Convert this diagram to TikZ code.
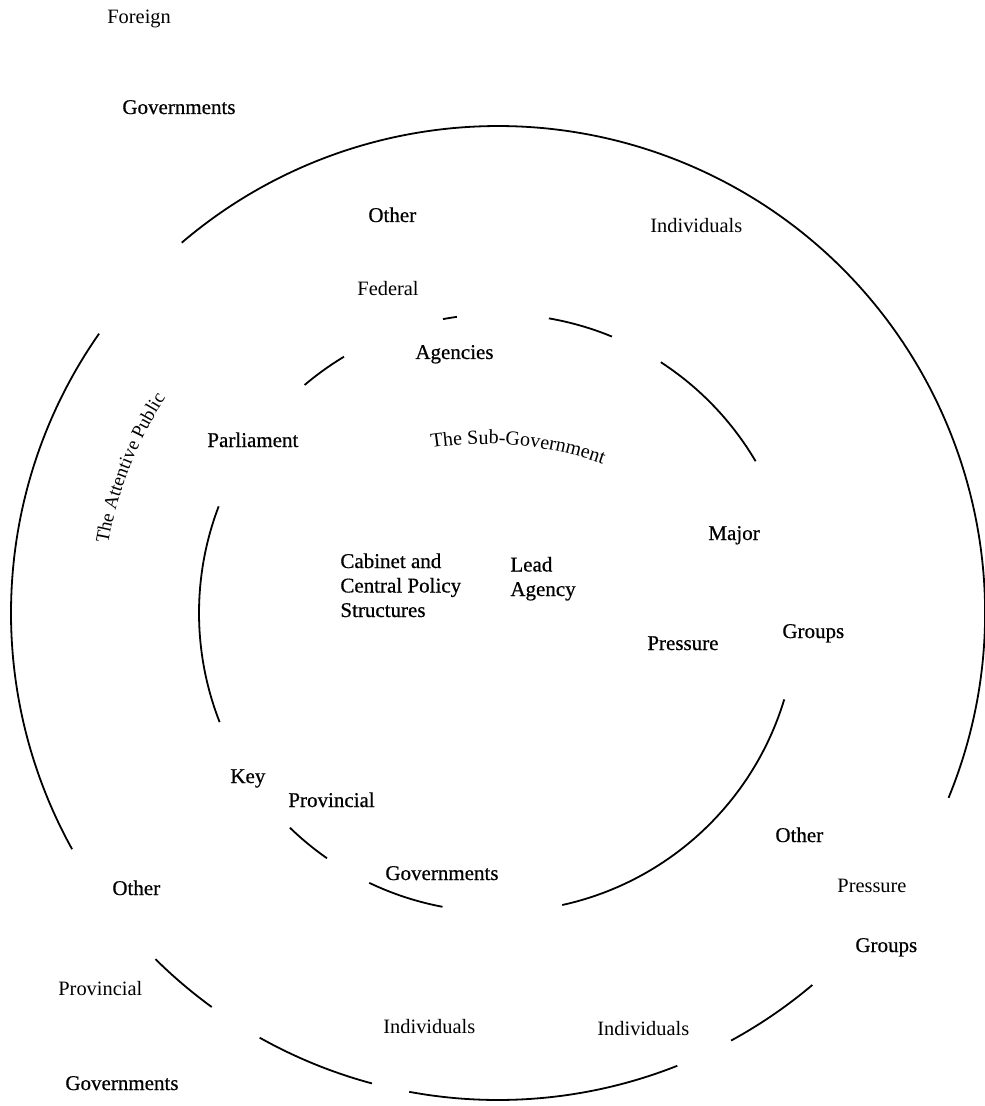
\documentclass[tikz,border=0pt]{standalone}
\usepackage{fontspec}
\setmainfont{Liberation Serif}
\newfontfamily\darkfont{Liberation Serif}[FakeBold=0.6]
\usetikzlibrary{decorations.text}

\begin{document}
\begin{tikzpicture}[
                x=0.5pt,
                y=-0.5pt,
                word/.style={
                    font=\darkfont\fontsize{10.5}{12.25}\selectfont,
                    anchor=base west,
                    inner sep=0pt,
                    align=left
                },
                faint/.style={
                    font=\fontsize{10.2}{12}\selectfont,
                    anchor=base west,
                    inner sep=0pt
                },
                ring/.style={
                    draw,
                    line width=0.9pt
                }]

                \useasboundingbox (0,0) rectangle (984,1106);
                \coordinate (centre) at (498,613);
                \coordinate (arch) at (485,800);

                % outer ring (the attentive public)
                \foreach \a/\b in {-22.3/130.5, 145/209, 225.3/234, 240.7/255, 259.5/291.6, 298.6/310.2}
                    \draw [ring] ([shift={(\a:243.5pt)}]centre) arc[start angle=\a, end angle=\b, radius=243.5pt];

                % inner ring (the sub-government)
                \foreach \a/\b in {30.5/57, 67.6/80.2, 97.9/100.6, 121/130.3, 159.1/201.4, 225.9/235.1, 244.5/259.3, 282.4/343.2}
                    \draw [ring] ([shift={(\a:149.5pt)}]centre) arc[start angle=\a, end angle=\b, radius=149.5pt];

                \path [decorate, decoration={text along path, text align=center,
                    text={|\fontsize{10}{12}\selectfont|The Sub-Government}}]
                    ([shift={(110:178pt)}]arch) arc[start angle=110, end angle=59.3, radius=178pt];
                \path [decorate, decoration={text along path, text align=center,
                    text={|\fontsize{9.5}{11}\selectfont|The Attentive Public}}]
                    ([shift={(175:198pt)}]centre) arc[start angle=175, end angle=142, radius=198pt];

                \node [faint] (foreign) at (107,24) {Foreign};
                \node [word] (gov_foreign) at (122,114) {Governments};
                \node [word] (other_fed) at (368,222) {Other};
                \node [faint] (federal) at (357,296) {Federal};
                \node [word] (agencies) at (415,359) {Agencies};
                \node [faint] (indiv_top) at (650,233) {Individuals};

                \node [word] (parliament) at (207,447) {Parliament};
                \node [word] (cabinet) at (340,617) {Cabinet and\\Central Policy\\Structures};
                \node [word] (lead) at (510,596) {Lead\\Agency};

                \node [word] (major) at (708,540) {Major};
                \node [word] (pressure_in) at (647,650) {Pressure};
                \node [word] (groups_in) at (782,638) {Groups};

                \node [word] (key) at (230,783) {Key};
                \node [word] (prov_key) at (288,807) {Provincial};
                \node [word] (gov_key) at (385,880) {Governments};

                \node [word] (other_prov) at (112,895) {Other};
                \node [faint] (prov_other) at (58,995) {Provincial};
                \node [word] (gov_other) at (65,1090) {Governments};
                \node [faint] (indiv_left) at (383,1033) {Individuals};
                \node [faint] (indiv_right) at (597,1035) {Individuals};

                \node [word] (other_groups) at (775,842) {Other};
                \node [faint] (pressure_out) at (837,892) {Pressure};
                \node [word] (groups_out) at (855,952) {Groups};

            \end{tikzpicture}
\end{document}
